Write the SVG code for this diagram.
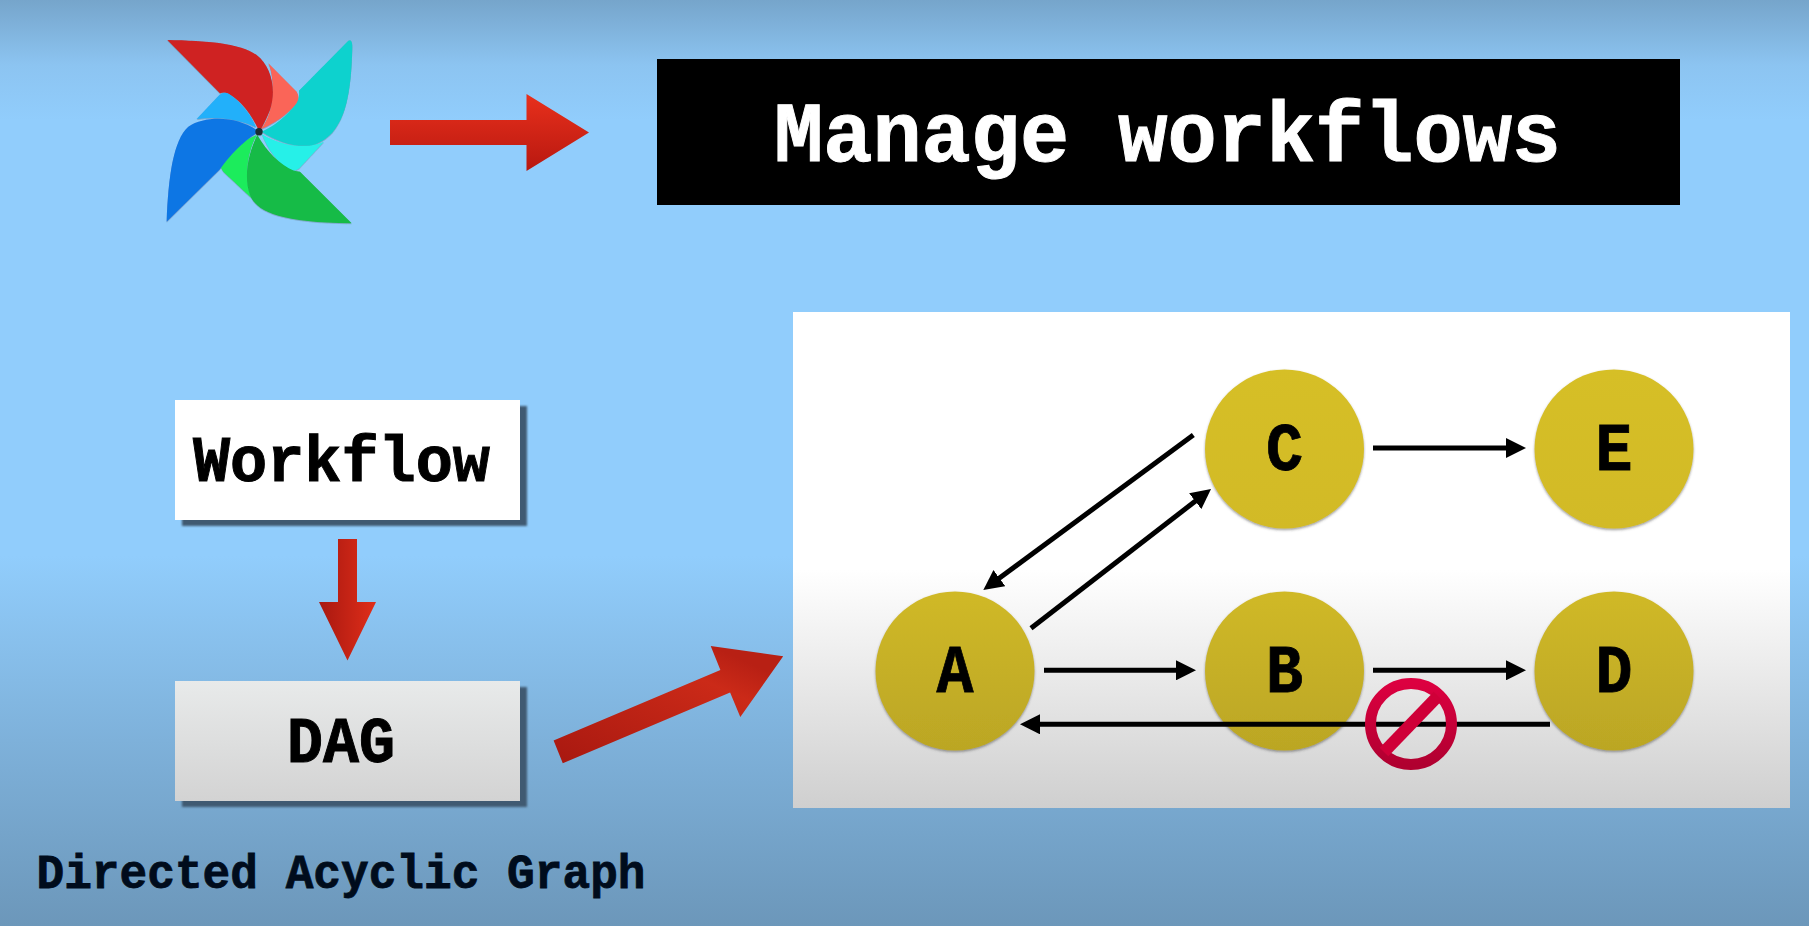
<svg xmlns="http://www.w3.org/2000/svg" width="1809" height="926" viewBox="0 0 1809 926">
<defs>
<linearGradient id="bg" x1="0" y1="0" x2="0" y2="1">
<stop offset="0" stop-color="#76a5cb"/><stop offset="0.07" stop-color="#8cc4f1"/><stop offset="0.13" stop-color="#91cdfc"/><stop offset="0.6" stop-color="#91cdfc"/><stop offset="0.8" stop-color="#7eb1da"/><stop offset="1" stop-color="#6c97ba"/>
</linearGradient>
<linearGradient id="panel" x1="0" y1="0" x2="0" y2="1">
<stop offset="0" stop-color="#fff"/><stop offset="0.52" stop-color="#fff"/><stop offset="1" stop-color="#cfcfcf"/>
</linearGradient>
<linearGradient id="dag" x1="0" y1="0" x2="0" y2="1">
<stop offset="0" stop-color="#e8eaea"/><stop offset="1" stop-color="#d3d3d3"/>
</linearGradient>
<linearGradient id="gold" x1="0" y1="0" x2="0" y2="1">
<stop offset="0" stop-color="#d6bf28"/><stop offset="1" stop-color="#d2ba28"/>
</linearGradient>
<linearGradient id="gold2" x1="0" y1="0" x2="0" y2="1">
<stop offset="0" stop-color="#d0b928"/><stop offset="1" stop-color="#bba624"/>
</linearGradient>
<linearGradient id="redH" x1="0" y1="0" x2="0" y2="1">
<stop offset="0" stop-color="#e8301c"/><stop offset="1" stop-color="#b81810"/>
</linearGradient>
<linearGradient id="redV" x1="0" y1="0" x2="1" y2="0">
<stop offset="0" stop-color="#a81810"/><stop offset="1" stop-color="#e02e1a"/>
</linearGradient>
<linearGradient id="redD" x1="0" y1="1" x2="0.8" y2="0.1">
<stop offset="0" stop-color="#a81810"/><stop offset="0.8" stop-color="#cb2a18"/><stop offset="1" stop-color="#b82014"/>
</linearGradient>
<linearGradient id="stop" x1="0" y1="0" x2="0" y2="1">
<stop offset="0" stop-color="#dc0040"/><stop offset="1" stop-color="#b00030"/>
</linearGradient>
<filter id="soft" x="-10%" y="-10%" width="120%" height="120%"><feGaussianBlur stdDeviation="1"/></filter>
<filter id="ds" x="-10%" y="-10%" width="120%" height="120%"><feDropShadow dx="0" dy="1.500" stdDeviation="1.200" flood-color="#3a3a3a" flood-opacity=".5"/></filter>
<marker id="ah" markerUnits="userSpaceOnUse" viewBox="0 0 20 20" refX="2" refY="10" markerWidth="20" markerHeight="20" orient="auto"><path d="M0 0L20 10L0 20Z" fill="#000"/></marker>
</defs>
<style>
.m{font-family:"Liberation Mono","DejaVu Sans Mono",monospace;font-weight:700}
.n{font-size:68px;text-anchor:middle;fill:#000;stroke:#000;stroke-width:.8}
.c{fill:url(#gold);filter:url(#ds)}
.c2{fill:url(#gold2);filter:url(#ds)}
.l{stroke:#000;stroke-width:5;fill:none;marker-end:url(#ah)}
.sh{fill:#3f5a72;filter:url(#soft)}
</style>
<rect width="1809" height="926" fill="url(#bg)"/>
<g id="logo" transform="translate(140 20) scale(.3333)" filter="url(#ds)">
<path d="M385 130L470 215Q482 235 468 253C440 285 405 310 362 328C385 300 398 260 398 210C398 180 395 150 385 130Z" fill="#fa6558"/>
<path d="M82 60C200 62 300 70 350 105C395 140 410 210 390 270C380 295 370 315 358 335C340 290 300 235 258 218Q248 216 240 220Z" fill="#cf2020"/>
<path d="M365 342C410 370 470 385 520 375C535 372 545 368 552 365L478 445Q462 458 445 447C410 425 385 390 365 342Z" fill="#28f0e8"/>
<path d="M477 212L625 62Q637 55 637 80C635 180 625 270 590 320C575 345 550 365 520 375C470 385 410 365 365 335C400 320 440 290 470 250Q480 230 477 212Z" fill="#10d2ce"/>
<path d="M350 345C300 365 265 395 245 425Q238 440 250 455L335 535C315 490 315 410 350 345Z" fill="#1bec5c"/>
<path d="M352 345C325 400 310 470 330 525C350 575 420 607 635 610L480 455L462 452C420 435 380 395 352 345Z" fill="#12bb46"/>
<path d="M170 297L238 225Q255 212 272 225C305 250 335 285 348 322C290 295 230 290 170 297Z" fill="#22b0fa"/>
<path d="M350 330C290 290 200 285 145 320C100 360 85 470 80 605L240 448C270 405 310 365 350 340Z" fill="#1076e4"/>
<circle cx="357" cy="335" r="11" fill="#1c2e30"/>
</g>
<g id="arrow-top"><path d="M390 120H526.500V94L589 132.500L526.500 171V145H390Z" fill="url(#redH)"/></g>
<g id="title">
<rect x="657" y="59" width="1023" height="146" fill="#000"/>
<text class="m" x="774" y="161" font-size="86" fill="#fff" stroke="#fff" stroke-width="1" textLength="787" lengthAdjust="spacingAndGlyphs">Manage workflows</text>
</g>
<g id="workflow">
<rect class="sh" x="182" y="406" width="345" height="120"/>
<rect x="175" y="400" width="345" height="120" fill="#fff"/>
<text class="m" x="193" y="481" font-size="65" fill="#000" stroke="#000" stroke-width="1" textLength="297" lengthAdjust="spacingAndGlyphs">Workflow</text>
</g>
<g id="arrow-down"><path d="M338 539H357V602H376L347.500 660.500L319 602H338Z" fill="url(#redV)"/></g>
<g id="dag-box">
<rect class="sh" x="182" y="687" width="345" height="120"/>
<rect x="175" y="681" width="345" height="120" fill="url(#dag)"/>
<text class="m" x="287" y="762" font-size="65" fill="#000" stroke="#000" stroke-width="1" textLength="108" lengthAdjust="spacingAndGlyphs">DAG</text>
</g>
<text class="m" x="36.500" y="888" font-size="48" fill="#000c1c" stroke="#000c1c" stroke-width=".8" textLength="609" lengthAdjust="spacingAndGlyphs">Directed Acyclic Graph</text>
<g id="arrow-diag"><path d="M553.600 740.600L720.400 669.900L710.700 645.900L783.200 656.300L740.300 716.900L730.100 692.500L562.800 763.300Z" fill="url(#redD)"/></g>
<rect id="panel-bg" x="793" y="312" width="997" height="496" fill="url(#panel)"/>
<g id="node-C"><circle class="c" cx="1284.500" cy="449" r="79.500"/><text class="m n" x="1284.500" y="470" textLength="37" lengthAdjust="spacingAndGlyphs">C</text></g>
<g id="node-E"><circle class="c" cx="1614" cy="449" r="79.500"/><text class="m n" x="1614" y="470" textLength="37" lengthAdjust="spacingAndGlyphs">E</text></g>
<g id="node-A"><circle class="c2" cx="955" cy="671" r="79.500"/><text class="m n" x="955" y="692" textLength="37" lengthAdjust="spacingAndGlyphs">A</text></g>
<g id="node-B"><circle class="c2" cx="1284.500" cy="671" r="79.500"/><text class="m n" x="1284.500" y="692" textLength="37" lengthAdjust="spacingAndGlyphs">B</text></g>
<g id="node-D"><circle class="c2" cx="1614" cy="671" r="79.500"/><text class="m n" x="1614" y="692" textLength="37" lengthAdjust="spacingAndGlyphs">D</text></g>
<g id="connectors">
<line class="l" x1="1193.300" y1="435" x2="997.800" y2="579.300"/>
<line class="l" x1="1031" y1="628.300" x2="1196.800" y2="500"/>
<line class="l" x1="1373" y1="448" x2="1508" y2="448"/>
<line class="l" x1="1044" y1="670.300" x2="1178" y2="670.300"/>
<line class="l" x1="1373" y1="670.300" x2="1508" y2="670.300"/>
<line class="l" x1="1550" y1="724.300" x2="1038" y2="724.300"/>
</g>
<g id="no-sign">
<circle cx="1411" cy="724" r="40.500" fill="none" stroke="url(#stop)" stroke-width="11"/>
<line x1="1438" y1="696" x2="1384" y2="752" stroke="#cf0038" stroke-width="12"/>
</g>
</svg>
